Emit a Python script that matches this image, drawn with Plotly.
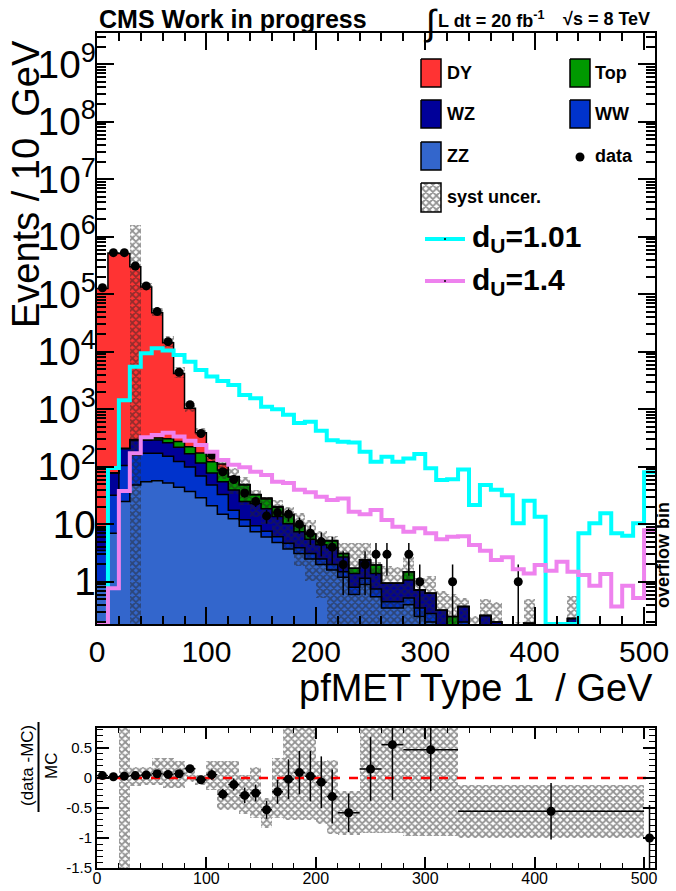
import numpy as np
import plotly.graph_objects as go

# ------------------------------------------------------------------
# Binning: 10 GeV bins from 0 to 500 GeV plus one overflow bin (500-510)
# ------------------------------------------------------------------
edges = np.arange(0, 520, 10)
centers = edges[:-1] + 5

# Background expectations per bin (events / 10 GeV)
zz = [1.0, 7, 25, 48, 55, 57, 52, 44, 37, 29, 21, 15, 12.5, 9.2, 7.4, 6.0, 4.8, 3.7, 3.1, 2.5,
      2.0, 1.6, 1.2, 0.6, 0.9, 0.55, 0.35, 0.35, 0.4, 0.25, 0.2, 0.1, 0.05, 0.15, 0.03, 0.05, 0.03,
      0.02, 0.02, 0.03, 0.02, 0.01, 0.01, 0.03, 0.01, 0.01, 0.01, 0.01, 0.01, 0.01, 0.02]
ww = [2.5, 25, 80, 110, 117, 115, 100, 80, 62, 40, 27, 18, 5, 2.8, 2.0, 1.6, 1.3, 1.0, 0.8, 0.6,
      0.5, 0.4, 0.3, 0.2, 0.25, 0.2, 0.1, 0.1, 0.12, 0.1, 0.08, 0.05, 0.02, 0.05, 0.02, 0.03, 0.02,
      0.01, 0.01, 0.02, 0.01, 0.01, 0.01, 0.02, 0.01, 0.01, 0.01, 0.01, 0.01, 0.01, 0.02]
wz = [5.0, 45, 100, 130, 118, 120, 110, 95, 70, 47, 30, 22, 22, 13, 13.6, 11, 7.5, 5.5, 3.5, 2.4,
      1.9, 1.9, 1.2, 0.6, 1.24, 0.65, 0.49, 0.49, 0.55, 0.37, 0.35, 0.17, 0.1, 0.17, 0.05, 0.18, 0.15,
      0.03, 0.05, 0.14, 0.03, 0.02, 0.02, 0.18, 0.02, 0.02, 0.02, 0.02, 0.02, 0.02, 0.05]
top = [0.3, 2, 5, 10, 15, 25, 45, 55, 55, 57, 44, 33, 27, 23, 9.5, 9, 6.2, 4.3, 2.0, 1.2,
       0.7, 1.2, 0.4, 0.32, 0, 0.56, 0, 0, 0.43, 0, 0, 0, 0.08, 0, 0, 0, 0,
       0, 0, 0, 0, 0, 0, 0, 0, 0, 0, 0, 0, 0, 0]
dy = [126000, 520000, 514000, 300000, 134000, 47300, 14100, 3900, 816, 219, 30, 24, 1.5, 1.0, 0.5,
      1.1, 0.5, 0.3, 0.1, 0.1, 0.1, 0.1, 0, 0, 0, 0, 0, 0, 0, 0, 0, 0, 0, 0, 0, 0, 0,
      0, 0, 0, 0, 0, 0, 0, 0, 0, 0, 0, 0, 0, 0]

# Observed events
data = [130000, 530000, 530000, 310000, 140000, 50000, 15000, 4400, 1200, 380, 160, 82, 60, 35, 25,
        14, 16, 15, 10, 7, 5, 4, 2, 0, 2, 3, 3, 0, 3, 1, 0, 0, 1, 0, 0, 0, 0,
        0, 1, 0, 0, 0, 0, 0, 0, 0, 0, 0, 0, 0, 0]

# Unparticle signal hypotheses
sig_101 = [0, 95, 1440, 5500, 9400, 11500, 10500, 8800, 6700, 4800, 3700, 3100, 2650, 1770, 1560,
           1110, 1000, 800, 580, 610, 425, 290, 272, 265, 183, 122, 150, 122, 140, 167, 94, 59, 61,
           90, 21.7, 48, 40, 32, 10.4, 25.6, 13.5, 0, 0, 0, 7.0, 10.4, 15.5, 7.0, 6.3, 10.4, 80]
sig_14 = [0, 0.77, 38, 172, 326, 356, 392, 335, 284, 240, 183, 131, 108, 98, 82, 72, 55, 52, 40,
          36, 30, 26.5, 28, 16.6, 15, 17.8, 11.9, 9.1, 7.4, 8.5, 7.0, 5.5, 6.1, 6.2, 4.36, 3.47,
          2.39, 2.66, 1.65, 1.40, 1.96, 1.56, 2.24, 1.5, 1.31, 0.85, 1.37, 0.37, 0.85, 0.52, 7.9]

# Relative systematic uncertainty of the total background (up / down)
syst_up = [0.02, 0.02, 0.03, 4.3, 0.15, 0.2, 0.3, 0.3, 0.25, 0.2, 0.15, 0.28, 0.38, 0.37, 0.2,
           0.05, 0.3, 0.35, 0.65, 0.75, 0.5, 0.2, 0.5, 1.7, 1.0, 0.15, 1.0, 0.9, 0.8, 0.6, 1.0,
           1.2, 1.5, 0.4, 1.5, 0.9, 1.2, 1.5, 1.5, 1.6, 1.5, 1.5, 1.5, 1.5, 1.0, 1.5, 1.5, 1.5,
           1.5, 1.5, 0.0]
syst_dn = [-0.02, -0.02, -0.03, -1.0, -0.12, -0.12, -0.15, -0.17, -0.15, -0.1, -0.2, -0.45, -0.5,
           -0.55, -0.6, -0.65, -0.7, -0.75, -0.8, -0.85, -0.9] + [-1.0] * 30

# Ratio panel: (data - MC) / MC
ratio_x = [5, 15, 25, 35, 45, 55, 65, 75, 85, 95, 105, 115, 125, 135, 145, 155, 165, 175, 185,
           195, 205, 215, 230, 250, 270, 305, 415, 505]
ratio_xerr = [5] * 22 + [10, 10, 10, 25, 85, 5]
ratio_val = [0.04, 0.02, 0.03, 0.04, 0.05, 0.07, 0.06, 0.07, 0.155, -0.03, 0.055, -0.27, -0.11,
             -0.29, -0.25, -0.53, -0.23, -0.02, 0.09, 0.03, -0.07, -0.31, -0.58, 0.15, 0.555,
             0.47, -0.555, -1.0]
ratio_err = [0.003, 0.002, 0.002, 0.002, 0.003, 0.005, 0.008, 0.015, 0.035, 0.055, 0.085, 0.09,
             0.1, 0.13, 0.14, 0.15, 0.2, 0.33, 0.36, 0.42, 0.43, 0.45, 0.32, 0.53, 0.92, 0.69,
             0.47, 0.55]
rband_edges = [0, 10, 20, 30, 40, 50, 60, 70, 80, 90, 100, 110, 120, 130, 140, 150, 160, 170,
               180, 190, 200, 210, 220, 240, 280, 330, 500]
rband_lo = [-0.02, -0.02, -2.0, -0.14, -0.12, -0.12, -0.17, -0.17, -0.06, -0.12, -0.2, -0.53,
            -0.53, -0.6, -0.66, -0.83, -0.66, -0.7, -0.7, -0.7, -0.77, -0.94, -0.95, -0.91,
            -0.97, -1.0]
rband_hi = [0.02, 0.02, 1.5, 0.19, 0.19, 0.33, 0.33, 0.28, 0.19, 0.05, 0.28, 0.28, 0.28, 0.05,
            0.19, -0.33, 0.33, 1.0, 1.0, 1.0, 0.28, 0.30, -0.22, 1.0, 1.0, -0.11]

# ------------------------------------------------------------------
# Styling
# ------------------------------------------------------------------
FONT = "Liberation Sans, Arial, Helvetica, sans-serif"
C_DY, C_TOP, C_WZ, C_WW, C_ZZ = "#ff3333", "#009900", "#000099", "#0033cc", "#3366cc"
C_SIG1, C_SIG2 = "#00ffff", "#ee82ee"
HATCH = dict(shape="x", fgcolor="#262626", bgcolor="rgba(0,0,0,0)", size=5, solidity=0.6,
             fillmode="overlay")

W, H = 676, 891
ML, MR, MT, MB = 97, 21, 33, 23
PW, PH = W - ML - MR, H - MT - MB
MAIN_BOTTOM, RATIO_TOP = 624, 728
YMIN_LOG, YMAX_LOG = -0.734, 9.544
floor = 10 ** YMIN_LOG


def px(xp):
    return (xp - ML) / PW


def py(yp):
    return (H - MB - yp) / PH


fig = go.Figure()

# ---- stacked backgrounds (drawn as cumulative overlaid bars) ----
comps = [np.array(a, float) for a in (zz, ww, wz, top, dy)]
cum = np.cumsum(comps, axis=0)
colors = [C_ZZ, C_WW, C_WZ, C_TOP, C_DY]
for level in range(4, -1, -1):
    fig.add_trace(go.Bar(x=centers, y=cum[level], width=10, marker=dict(color=colors[level], line=dict(width=0)),
                         xaxis="x", yaxis="y", hoverinfo="skip"))
for level in range(5):
    fig.add_trace(go.Scatter(x=edges, y=np.append(cum[level], cum[level][-1]), mode="lines",
                             line=dict(shape="hv", color="black", width=1.5), xaxis="x", yaxis="y",
                             hoverinfo="skip"))

# ---- data ----
d = np.array(data, float)
has = d > 0
err = np.sqrt(d[has])
fig.add_trace(go.Scatter(x=centers[has], y=d[has], mode="markers",
                         marker=dict(color="black", size=9),
                         error_y=dict(type="data", array=err, arrayminus=np.minimum(err, d[has] - 1e-3),
                                      color="black", thickness=1.5, width=0),
                         xaxis="x", yaxis="y", hoverinfo="skip"))

# ---- systematic band on the total background ----
total = cum[4]
band_hi = total * (1 + np.array(syst_up))
band_lo = np.maximum(total * (1 + np.array(syst_dn)), floor * 0.8)
fig.add_trace(go.Bar(x=centers, y=band_hi - band_lo, base=band_lo, width=10,
                     marker=dict(color="rgba(0,0,0,0)", line=dict(width=0), pattern=HATCH),
                     xaxis="x", yaxis="y", hoverinfo="skip"))

# ---- signal hypotheses ----
for vals, col in ((sig_101, C_SIG1), (sig_14, C_SIG2)):
    v = np.array(vals, float)
    v = np.where(v > 0, v, floor)
    fig.add_trace(go.Scatter(x=edges, y=np.append(v, v[-1]), mode="lines",
                             line=dict(shape="hv", color=col, width=4), xaxis="x", yaxis="y",
                             hoverinfo="skip"))

# ---- ratio panel ----
re = np.array(rband_edges, float)
rlo, rhi = np.array(rband_lo), np.array(rband_hi)
fig.add_trace(go.Bar(x=(re[:-1] + re[1:]) / 2, y=rhi - rlo, base=rlo, width=np.diff(re),
                     marker=dict(color="rgba(0,0,0,0)", line=dict(width=0), pattern=HATCH),
                     xaxis="x2", yaxis="y2", hoverinfo="skip"))
fig.add_trace(go.Scatter(x=[0, 510], y=[0, 0], mode="lines",
                         line=dict(color="#ff0000", width=2.5, dash="dash"),
                         xaxis="x2", yaxis="y2", hoverinfo="skip"))
fig.add_trace(go.Scatter(x=ratio_x, y=ratio_val, mode="markers",
                         marker=dict(color="black", size=9),
                         error_x=dict(type="data", array=ratio_xerr, color="black", thickness=1.5, width=0),
                         error_y=dict(type="data", array=ratio_err, color="black", thickness=1.5, width=0),
                         xaxis="x2", yaxis="y2", hoverinfo="skip"))

# ---- legend (pixel-coordinate overlay axes) ----
def box(x0, y0, x1, y1, color=None, pattern=None):
    kw = dict(fillcolor=color) if color else dict(fillcolor="white", fillpattern=pattern)
    return go.Scatter(x=[x0, x1, x1, x0, x0], y=[y0, y0, y1, y1, y0], mode="lines", fill="toself",
                      line=dict(color="black", width=1.5), xaxis="x3", yaxis="y3",
                      hoverinfo="skip", **kw)


legend_rows = [(73, "DY", C_DY, "Top", C_TOP), (114, "WZ", C_WZ, "WW", C_WW)]
for yc, l1, c1, l2, c2 in legend_rows:
    fig.add_trace(box(421, yc - 14, 441, yc + 14, c1))
    fig.add_trace(box(570, yc - 14, 590, yc + 14, c2))
fig.add_trace(box(421, 142, 441, 170, C_ZZ))
fig.add_trace(box(421, 183, 441, 212, pattern=dict(shape="x", fgcolor="#262626", bgcolor="white",
                                                   size=5, solidity=0.6)))
fig.add_trace(go.Scatter(x=[580], y=[157], mode="markers", marker=dict(color="black", size=9),
                         xaxis="x3", yaxis="y3", hoverinfo="skip"))
for yc, col in ((239, C_SIG1), (281, C_SIG2)):
    fig.add_trace(go.Scatter(x=[425, 465], y=[yc, yc], mode="lines", line=dict(color=col, width=4),
                             xaxis="x3", yaxis="y3", hoverinfo="skip"))
    fig.add_trace(go.Scatter(x=[445], y=[yc], mode="markers", marker=dict(color="black", size=2),
                             xaxis="x3", yaxis="y3", hoverinfo="skip"))

ann = []


def text(xp, yp, s, size, bold=False, xanchor="left", angle=0, yanchor="middle"):
    ann.append(dict(x=px(xp), y=py(yp), xref="paper", yref="paper", text=f"<b>{s}</b>" if bold else s,
                    showarrow=False, xanchor=xanchor, yanchor=yanchor, textangle=angle,
                    font=dict(family=FONT, size=size, color="black")))


text(445, 73, "DY", 18, True)
text(593, 73, "Top", 18, True)
text(445, 114, "WZ", 18, True)
text(593, 114, "WW", 18, True)
text(445, 156, "ZZ", 18, True)
text(593, 156, "data", 18, True)
text(445, 197, "syst uncer.", 18, True)
text(470, 239, "d<sub>U</sub>=1.01", 30, True)
text(470, 281, "d<sub>U</sub>=1.4", 30, True)

# header
text(97, 19, "CMS Work in progress", 25, True)
text(422, 22, "\u222b", 36)
text(436, 19, "L dt = 20 fb<sup>-1</sup>", 18, True)
text(561, 19, "\u221as = 8 TeV", 18, True)

# axis titles
text(655, 688, "pfMET Type 1 \u00a0/ GeV", 38, xanchor="right")
text(26, 184, "Events / 10 \u00a0GeV", 38, xanchor="center", angle=-90)
text(663, 555, "overflow bin", 18, True, xanchor="center", angle=-90)
text(27, 766, "(data -MC)", 17, xanchor="center", angle=-90)
text(51, 766, "MC", 17, xanchor="center", angle=-90)

shapes = [dict(type="line", xref="paper", yref="paper", x0=px(38.5), x1=px(38.5), y0=py(722), y1=py(812),
               line=dict(color="black", width=2))]

axis_common = dict(showline=True, linecolor="black", linewidth=2, mirror="allticks", ticks="inside",
                   tickcolor="black", tickwidth=1.5, showgrid=False, zeroline=False, automargin=False)

fig.update_layout(
    width=W, height=H, margin=dict(l=ML, r=MR, t=MT, b=MB, autoexpand=False),
    paper_bgcolor="white", plot_bgcolor="rgba(0,0,0,0)",
    barmode="overlay", bargap=0, showlegend=False,
    font=dict(family=FONT, color="black"),
    annotations=ann, shapes=shapes,
    xaxis=dict(domain=[0, 1], anchor="y", range=[0, 510], tick0=0, dtick=100, ticklen=17,
               tickfont=dict(size=30, family=FONT),
               minor=dict(dtick=20, ticks="inside", ticklen=8, tickwidth=1.5, tickcolor="black",
                          showgrid=False),
               **axis_common),
    yaxis=dict(domain=[py(MAIN_BOTTOM), 1], anchor="x", type="log", range=[YMIN_LOG, YMAX_LOG],
               dtick=1, exponentformat="power", ticklen=17, tickfont=dict(size=31, family=FONT),
               ticklabelstandoff=-7,
               minor=dict(dtick="D1", ticks="inside", ticklen=9, tickwidth=1.5, tickcolor="black",
                          showgrid=False),
               **axis_common),
    xaxis2=dict(domain=[0, 1], anchor="y2", range=[0, 510], tick0=0, dtick=100, ticklen=11,
                tickfont=dict(size=16, family=FONT), ticklabelstandoff=-5,
                minor=dict(dtick=20, ticks="inside", ticklen=5, tickwidth=1.2, tickcolor="black",
                           showgrid=False),
                **axis_common),
    yaxis2=dict(domain=[0, py(RATIO_TOP)], anchor="x2", range=[-1.5, 0.833],
                tickvals=[-1.5, -1, -0.5, 0, 0.5], ticktext=["-1.5", "-1", "-0.5", "0", "0.5"],
                ticklen=12, tickfont=dict(size=15, family=FONT),
                minor=dict(dtick=0.1, ticks="inside", ticklen=6, tickwidth=1.2, tickcolor="black",
                           showgrid=False),
                **axis_common),
    xaxis3=dict(overlaying="x", anchor="y3", range=[ML, W - MR], visible=False),
    yaxis3=dict(overlaying="y", anchor="x3", range=[MAIN_BOTTOM, MT], visible=False),
)

fig.write_html("out.html")
